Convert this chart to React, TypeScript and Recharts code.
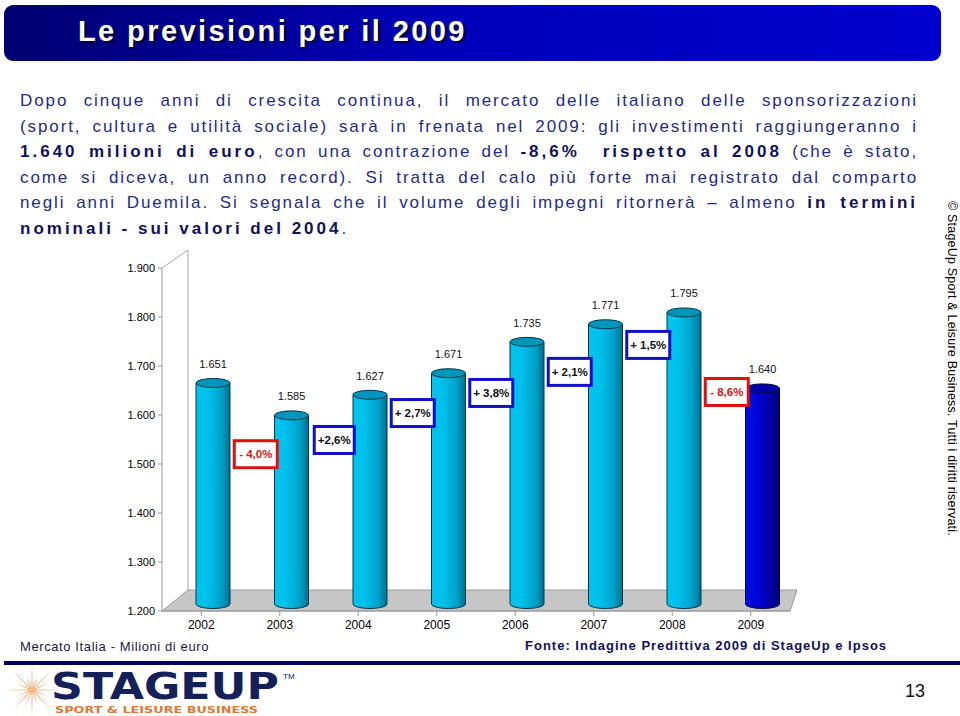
import React from 'react';
import { ComposedChart, Bar, Line, XAxis, YAxis, LabelList } from 'recharts';

const years = ['2002', '2003', '2004', '2005', '2006', '2007', '2008', '2009'];
const values = [1651, 1585, 1627, 1671, 1735, 1771, 1795, 1640];
// growth vs previous year, and the height (in the value scale) where each box sits
const changes = ['', '- 4,0%', '+2,6%', '+ 2,7%', '+ 3,8%', '+ 2,1%', '+ 1,5%', '- 8,6%'];
const changeLevels = [null, 1520, 1549, 1604, 1645, 1688, 1743, 1647];
const yTicks = [1200, 1300, 1400, 1500, 1600, 1700, 1800, 1900];

const chartData = years.map((year, i) => ({
  year,
  value: values[i],
  change: changes[i],
  level: changeLevels[i],
}));

const fmt = (v: number) => (v / 1000).toFixed(3);

// fake 3D: cylinders sit a little right and up of the category center
const DX = 12;
const DY = -7;

function Cylinder(props: any) {
  const { x, y, width, height, index } = props;
  const last = index === years.length - 1;
  const cx = x + width / 2 + DX;
  const rx = width / 2;
  const ry = 4.5;
  const top = y + DY;
  const bottom = y + height + DY;
  const stroke = last ? '#000040' : '#003848';
  return (
    <g>
      <path
        d={`M${cx - rx},${top} L${cx - rx},${bottom} A${rx},${ry} 0 0 0 ${cx + rx},${bottom} L${cx + rx},${top} Z`}
        fill={last ? 'url(#cylBlue)' : 'url(#cylCyan)'}
        stroke={stroke}
        strokeWidth={1}
      />
      <ellipse cx={cx} cy={top} rx={rx} ry={ry} fill={last ? '#0000a8' : '#0096bc'} stroke={stroke} strokeWidth={1} />
    </g>
  );
}

function ValueLabel(props: any) {
  const { x, y, width, value } = props;
  return (
    <text x={x + width / 2 + DX} y={y - 22} textAnchor="middle" fontSize={11} fontFamily="Arial, Liberation Sans, sans-serif" fill="#111">
      {fmt(value)}
    </text>
  );
}

function ChangeBox(props: any) {
  const { cx, cy, payload } = props;
  if (!payload || !payload.change || cy == null) return <g key={`b-${props.index}`} />;
  const neg = payload.change.startsWith('-');
  const w = 40 + (payload.change.length - 5) * 3;
  const h = 27;
  const bx = cx - 24;
  return (
    <g key={`b-${props.index}`}>
      <rect x={bx - w / 2} y={cy - h / 2} width={w} height={h} fill="#fff" stroke={neg ? '#e01010' : '#1010c8'} strokeWidth={3} />
      <text x={bx} y={cy + 4} textAnchor="middle" fontSize={11.5} fontWeight="bold" fontFamily="Arial, Liberation Sans, sans-serif" fill={neg ? '#e01010' : '#111'}>
        {payload.change}
      </text>
    </g>
  );
}

const bodyText: React.CSSProperties = {
  fontFamily: 'Arial, "Liberation Sans", sans-serif',
  fontSize: 17,
  letterSpacing: 1.9,
  color: '#1f2b84',
  lineHeight: '25.6px',
  textAlign: 'justify',
  textAlignLast: 'justify',
  whiteSpace: 'nowrap',
};
const B = ({ children }: { children: React.ReactNode }) => (
  <b style={{ color: '#10105c', letterSpacing: 3 }}>{children}</b>
);

function Star() {
  const pts: string[] = [];
  const n = 16;
  for (let i = 0; i < n * 2; i++) {
    const a = (Math.PI * i) / n;
    const r = i % 2 === 0 ? (i % 4 === 0 ? 26 : 16) : 3;
    pts.push(`${32 + r * Math.cos(a)},${690 + r * Math.sin(a)}`);
  }
  return <polygon points={pts.join(' ')} fill="url(#starGrad)" />;
}

export default function App() {
  return (
    <div style={{ position: 'absolute', left: 0, top: 0, width: 960, height: 716, background: '#fff', overflow: 'hidden' }}>
      {/* title bar */}
      <div
        style={{
          position: 'absolute', left: 4, top: 5, width: 937, height: 56, borderRadius: 9,
          background: 'linear-gradient(90deg, #000070 0%, #0000b8 45%, #0000d0 100%)',
        }}
      />
      <div
        style={{
          position: 'absolute', left: 78, top: 15, fontFamily: 'Arial, "Liberation Sans", sans-serif',
          fontWeight: 'bold', fontSize: 29, letterSpacing: 2.4, color: '#fff', textShadow: '2px 2px 1px #000030',
        }}
      >
        Le previsioni per il 2009
      </div>

      {/* paragraph */}
      <div style={{ position: 'absolute', left: 20, top: 88, width: 898 }}>
        <div style={bodyText}>Dopo cinque anni di crescita continua, il mercato delle italiano delle sponsorizzazioni</div>
        <div style={bodyText}>(sport, cultura e utilità sociale) sarà in frenata nel 2009: gli investimenti raggiungeranno i</div>
        <div style={bodyText}><B>1.640 milioni di euro</B>, con una contrazione del <B>-8,6%&nbsp; rispetto al 2008</B> (che è stato,</div>
        <div style={bodyText}>come si diceva, un anno record). Si tratta del calo più forte mai registrato dal comparto</div>
        <div style={bodyText}>negli anni Duemila. Si segnala che il volume degli impegni ritornerà – almeno <B>in termini</B></div>
        <div style={{ ...bodyText, textAlignLast: 'left' }}><B>nominali - sui valori del 2004</B>.</div>
      </div>

      {/* 3D frame behind the chart */}
      <svg width={960} height={716} style={{ position: 'absolute', left: 0, top: 0 }}>
        <polygon points="162,611 188,590 797,590 790,611" fill="#c6c6c6" stroke="#9a9a9a" strokeWidth={1} />
        <line x1={188} y1={250} x2={188} y2={590} stroke="#a8a8a8" strokeWidth={1} />
        <line x1={162} y1={268} x2={188} y2={250} stroke="#a8a8a8" strokeWidth={1} />
      </svg>

      <div style={{ position: 'absolute', left: 0, top: 240 }}>
        <ComposedChart width={960} height={400} data={chartData} margin={{ top: 28, right: 170, bottom: 0, left: 0 }}>
          <defs>
            <linearGradient id="cylCyan" x1="0" y1="0" x2="1" y2="0">
              <stop offset="0%" stopColor="#00c4ee" />
              <stop offset="35%" stopColor="#00c0ec" />
              <stop offset="75%" stopColor="#00a0c8" />
              <stop offset="100%" stopColor="#006e8c" />
            </linearGradient>
            <linearGradient id="cylBlue" x1="0" y1="0" x2="1" y2="0">
              <stop offset="0%" stopColor="#0010e8" />
              <stop offset="50%" stopColor="#0000c8" />
              <stop offset="100%" stopColor="#000078" />
            </linearGradient>
          </defs>
          <XAxis
            dataKey="year"
            tickSize={5}
            tickMargin={4}
            height={29}
            stroke="#999"
            tick={{ fontSize: 12, fill: '#000', fontFamily: 'Arial, Liberation Sans, sans-serif' }}
          />
          <YAxis
            domain={[1200, 1900]}
            ticks={yTicks}
            tickFormatter={fmt}
            width={162}
            tickSize={4}
            tickMargin={3}
            stroke="#999"
            tick={{ fontSize: 11, fill: '#000', fontFamily: 'Arial, Liberation Sans, sans-serif' }}
          />
          <Bar dataKey="value" barSize={34} shape={<Cylinder />} isAnimationActive={false}>
            <LabelList dataKey="value" content={<ValueLabel />} />
          </Bar>
          <Line dataKey="level" stroke="none" dot={(p: any) => <ChangeBox {...p} />} activeDot={false} isAnimationActive={false} legendType="none" />
        </ComposedChart>
      </div>

      {/* side copyright, rotated clockwise */}
      <svg width={960} height={716} style={{ position: 'absolute', left: 0, top: 0 }}>
        <text
          transform="translate(948,201) rotate(90)"
          fontFamily="Arial, Liberation Sans, sans-serif"
          fontSize={12.5}
          letterSpacing={0.2}
          fill="#000"
        >
          © StageUp Sport &amp; Leisure Business. Tutti i diritti riservati.
        </text>
      </svg>

      {/* footer */}
      <div style={{ position: 'absolute', left: 20, top: 639, fontFamily: 'Arial, "Liberation Sans", sans-serif', fontSize: 13, letterSpacing: 0.6, color: '#1a1a40' }}>
        Mercato Italia - Milioni di euro
      </div>
      <div style={{ position: 'absolute', left: 525, top: 638, fontFamily: 'Arial, "Liberation Sans", sans-serif', fontSize: 13, fontWeight: 'bold', letterSpacing: 1, color: '#10105c' }}>
        Fonte: Indagine Predittiva 2009 di StageUp e Ipsos
      </div>
      <div style={{ position: 'absolute', left: 4, top: 661, width: 956, height: 4, background: '#000060' }} />
      <svg width={960} height={716} style={{ position: 'absolute', left: 0, top: 0 }}>
        <defs>
          <radialGradient id="starGrad">
            <stop offset="0%" stopColor="#f8c090" />
            <stop offset="100%" stopColor="#e06820" />
          </radialGradient>
        </defs>
        <Star />
        <text x={51} y={699} fontFamily="DejaVu Sans, Arial, sans-serif" fontWeight="bold" fontSize={37} fill="#14205a" textLength={228} lengthAdjust="spacingAndGlyphs">
          STAGEUP
        </text>
        <text x={283} y={679} fontFamily="Arial, sans-serif" fontSize={8} fill="#14205a">TM</text>
        <text x={55} y={713} fontFamily="DejaVu Sans, Arial, sans-serif" fontWeight="bold" fontSize={9.5} fill="#e07830" textLength={203} lengthAdjust="spacingAndGlyphs">
          SPORT &amp; LEISURE BUSINESS
        </text>
        <text x={905} y={697} fontFamily="Arial, sans-serif" fontSize={18} fill="#111">13</text>
      </svg>
    </div>
  );
}
